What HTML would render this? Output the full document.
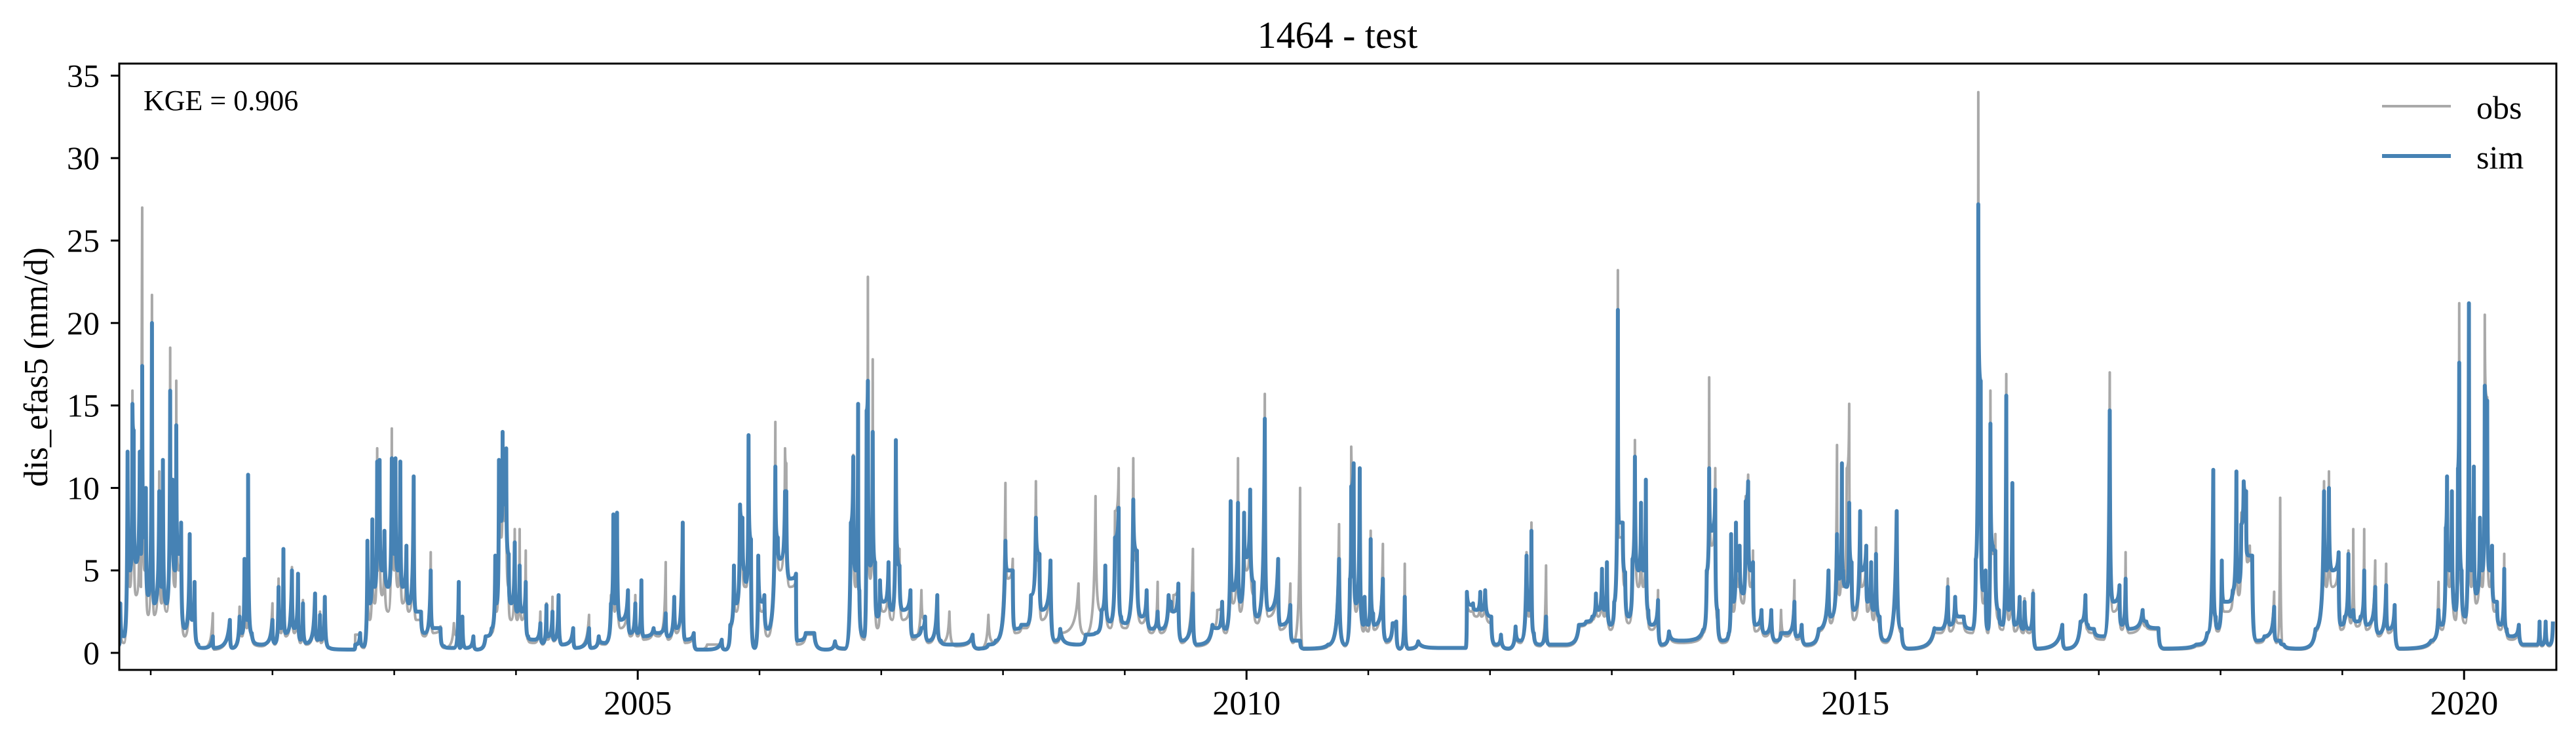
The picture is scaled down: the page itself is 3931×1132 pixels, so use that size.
<!DOCTYPE html>
<html><head><meta charset="utf-8"><title>1464 - test</title>
<style>
html,body{margin:0;padding:0;background:#fff;}
svg{display:block;font-family:"Liberation Serif",serif;}
</style></head>
<body>
<svg id="chart" width="3931" height="1132" viewBox="0 0 3931 1132" xmlns="http://www.w3.org/2000/svg">
<rect x="0" y="0" width="3931" height="1132" fill="#fff"/>
<text x="2041" y="73" font-size="58" text-anchor="middle">1464 - test</text>
<defs><clipPath id="plotclip"><rect x="182" y="97" width="3719" height="925"/></clipPath></defs>
<g id="series" clip-path="url(#plotclip)"></g>
<g id="axes"></g>
<rect x="182" y="97" width="3719" height="925" fill="none" stroke="#000" stroke-width="3"/>
<text x="219" y="168" font-size="44">KGE = 0.906</text>
<g>
<line x1="3635" y1="162" x2="3740" y2="162" stroke="#a9a9a9" stroke-width="4"/>
<text x="3779" y="181" font-size="50">obs</text>
<line x1="3635" y1="238" x2="3740" y2="238" stroke="#4682b4" stroke-width="6"/>
<text x="3779" y="257" font-size="50">sim</text>
</g>
<text transform="translate(72,560) rotate(-90)" font-size="52" text-anchor="middle">dis_efas5 (mm/d)</text>
</svg>
<script>
const yTicks=[0,5,10,15,20,25,30,35];
const xMajorYears=[2005,2010,2015,2020];
const xMinorYears=[2001,2002,2003,2004,2006,2007,2008,2009,2011,2012,2013,2014,2016,2017,2018,2019];

const datesA=[2000.74,2000.75,2000.78,2000.81,2000.83,2000.85,2000.86,2000.88,2000.91,2000.92,
2000.93,2000.95,2000.96,2000.98,2001.01,2001.03,2001.07,2001.09,2001.10,2001.13,
2001.16,2001.17,2001.18,2001.20,2001.21,2001.23,2001.25,2001.28,2001.32,2001.34,
2001.36,2001.39,2001.43,2001.51,2001.52,2001.65,2001.67,2001.73,2001.75,2001.77,
2001.79,2001.80,2001.83,2001.91,2002.00,2002.02,2002.05,2002.07,2002.09,2002.11,
2002.16,2002.18,2002.21,2002.23,2002.25,2002.28,2002.35,2002.37,2002.39,2002.40,
2002.43,2002.47,2002.67,2002.68,2002.72,2002.75,2002.78,2002.80,2002.82,2002.84,
2002.86,2002.87,2002.88,2002.90,2002.92,2002.95,2002.98,2003.00,2003.01,2003.03,
2003.05,2003.07,2003.10,2003.12,2003.16,2003.18,2003.22,2003.25,2003.30,2003.32,
2003.38,2003.41,2003.49,2003.53,2003.54,2003.56,2003.59,2003.65,2003.68,2003.75,
2003.80,2003.83,2003.84,2003.86,2003.88,2003.89,2003.90,2003.92,2003.94,2003.96,
2003.99,2004.01,2004.03,2004.05,2004.08,2004.10,2004.15,2004.20,2004.22,2004.25,
2004.26,2004.30,2004.31,2004.35,2004.38,2004.47,2004.49,2004.60,2004.62,2004.68,
2004.73,2004.78,2004.80,2004.81,2004.83,2004.86,2004.92,2004.94,2004.98,2005.00,
2005.03,2005.05,2005.13,2005.17,2005.23,2005.25,2005.30,2005.32,2005.37,2005.39,
2005.46,2005.49,2005.57,2005.69,2005.72];
const simA=[0.5,3.0,1.0,12.2,5,15.1,13.5,5.5,12.2,6,
17.4,7,10,3.5,20,3,9.8,4,11.7,3,
15.9,7,10.5,5,13.8,6,7.9,1.5,7.2,2,
4.3,0.5,0.3,1.0,0.3,2,0.3,2.2,1.2,5.7,
2,10.8,1.2,0.5,2,0.6,4,1.5,6.3,1.2,
5,1.5,4.8,0.8,3,0.6,3.6,0.8,2.3,0.8,
3.4,0.3,0.2,0.5,1.2,0.4,6.8,3,8.1,4,
11.6,6,11.7,5,7.4,4,11.8,6,11.8,5,
11.6,4,6.5,3,10.7,2.5,2.5,1.2,5,1.5,
1.5,0.4,0.3,4.3,0.3,2.2,0.3,1,0.2,1,
1.5,5.9,3,11.7,8,13.4,9,12.4,6,3,
6.7,2.5,5.3,2.5,4.3,1,0.8,1.8,0.6,2.9,
1,2.5,0.8,3.5,0.5,1.5,0.3,1.5,0.3,1,
0.6,3,8.4,3,8.5,2,3.8,1.2,3,1.2,
4.4,1,1.5,1.2,2.4,1,3.4,1.5,7.9,0.8,
1.2,0.2,0.2,0.8,0.2];
const obsA=[0.4,2.5,0.6,12.2,4,15.9,13,3.5,10,4,
27,5,9.5,2.3,21.7,2.3,11,3,11,2.5,
18.5,6,9,4,16.5,5,7,1,6,2,
4,0.4,0.3,2.4,0.2,2,0.3,2.8,1,5.5,
1.5,10.8,1,0.4,3,0.5,4.5,1.2,6.2,1,
5.2,1.2,4.8,0.6,3.2,0.5,3,0.7,2.5,0.6,
3.2,0.3,0.2,1.1,1.1,0.3,6.5,2,8,3,
12.4,5,11,3.5,7,2.5,13.6,5,11.5,4,
11,3,6,2.5,10.5,2,2,1,6.1,1.2,
1.6,0.3,1.8,1,0.3,2,0.3,1,0.2,1,
1.2,5.5,2.5,11.5,7,13.2,8,12,4,2,
7.5,2,7.5,2,6.2,0.8,0.6,2.5,0.5,3,
0.8,3.4,0.7,3.3,0.5,1.3,0.3,2.3,0.3,0.8,
0.5,3.5,8.3,2.5,8.4,1.5,3.6,1,3.5,1,
4,0.8,1.5,1,5.5,0.8,3.3,1.2,7.7,0.6,
1.2,0.2,0.5,0.5,0.2];

const datesB=[2005.76,2005.79,2005.81,2005.84,2005.86,2005.88,2005.89,2005.91,2005.93,2005.96,
2005.99,2006.02,2006.04,2006.07,2006.13,2006.15,2006.17,2006.21,2006.22,2006.25,
2006.30,2006.31,2006.38,2006.45,2006.55,2006.62,2006.70,2006.75,2006.77,2006.79,
2006.81,2006.82,2006.86,2006.88,2006.89,2006.91,2006.93,2006.95,2006.97,2006.99,
2007.02,2007.06,2007.09,2007.12,2007.15,2007.18,2007.24,2007.26,2007.33,2007.36,
2007.39,2007.46,2007.49,2007.56,2007.62,2007.75,2007.80,2007.88,2007.94,2008.02,
2008.04,2008.08,2008.10,2008.15,2008.19,2008.23,2008.27,2008.30,2008.32,2008.39,
2008.43,2008.47,2008.62,2008.68,2008.76,2008.81,2008.84,2008.88,2008.92,2008.95,
2008.97,2009.01,2009.07,2009.10,2009.14,2009.18,2009.22,2009.27,2009.30,2009.36,
2009.38,2009.40,2009.44,2009.47,2009.56,2009.59,2009.72,2009.76,2009.80,2009.83,
2009.87,2009.89,2009.93,2009.95,2009.98,2010.00,2010.03,2010.06,2010.09,2010.15,
2010.18,2010.26,2010.28,2010.36,2010.38,2010.44,2010.47,2010.67];
const simB=[1.7,5.3,3,9,8.2,5,4.3,13.2,6.9,0.3,
5.9,3.1,3.5,1.45,11.3,7,5.7,9.8,9.8,4.5,
4.8,0.74,1.2,1.2,0.2,0.7,0.26,7.9,11.9,5,
15.1,3.8,1,14.7,16.5,5.3,13.4,5.5,2.2,4.4,
3.1,5.5,2.6,12.9,5.3,2.6,3.8,1,1.5,2.2,
0.74,3.5,0.74,0.5,0.5,1.1,0.26,0.5,0.74,6.8,
5,5,1.45,1.7,1.7,3.5,8.2,6,2.6,5.6,
0.74,1.45,0.5,1.1,1.2,2.6,5.3,1.9,7,8.8,
2.2,1.8,9.3,6.2,2.2,3.8,1.45,2.5,1.45,3.5,
3.1,2.5,4.2,0.74,3.6,0.5,1.7,1.5,3.1,1.45,
9.2,3.8,9.1,3.1,8.5,5.8,9.9,4.3,2.2,14.2,
2.6,5.7,1.7,2.9,0.74,0.74,0.26,0.5];
const obsB=[1.5,5,2.5,9,7.5,4,4,13,6,0.3,
5.5,2.5,3,1,14,6,5,12.4,11.5,4,
4.5,0.5,1.1,1.1,0.2,0.6,0.2,7.5,12,4,
15,3,0.8,11,22.8,4.5,17.8,4.5,1.5,4,
2.5,5,2,12.9,6.3,2,3.5,0.8,3.8,2,
0.6,3.5,0.6,2.5,0.4,1.1,0.2,2.3,0.6,10.3,
4.5,5.7,1.2,1.5,1.5,3.5,10.4,5.5,2,5.6,
0.6,1.2,4.2,1.1,9.5,2.5,5.3,1.5,8.6,11.2,
1.8,1.5,11.8,5.5,1.8,3.5,1.2,4.3,1.2,3.5,
2.5,3.5,4.2,0.6,6.3,0.4,1.5,2.6,3,1.2,
9,3,11.8,2.5,8.3,5,9.8,3.5,1.8,15.7,
2.2,5.5,1.4,4.2,0.6,10,0.2,0.4];

const datesC=[2010.76,2010.81,2010.85,2010.86,2010.88,2010.90,2010.93,2010.96,2010.97,2011.00,
2011.02,2011.04,2011.05,2011.12,2011.15,2011.20,2011.23,2011.26,2011.30,2011.33,
2011.41,2011.60,2011.80,2011.81,2011.85,2011.86,2011.89,2011.92,2011.93,2011.96,
2012.01,2012.05,2012.09,2012.15,2012.21,2012.25,2012.30,2012.32,2012.34,2012.36,
2012.41,2012.46,2012.49,2012.62,2012.73,2012.79,2012.84,2012.87,2012.89,2012.92,
2012.94,2012.96,2012.99,2013.02,2013.05,2013.06,2013.09,2013.11,2013.14,2013.17,
2013.19,2013.22,2013.24,2013.26,2013.28,2013.30,2013.33,2013.38,2013.41,2013.47,
2013.57,2013.75,2013.78,2013.80,2013.82,2013.85,2013.87,2013.91,2013.96,2013.98,
2014.00,2014.02,2014.04,2014.05,2014.08,2014.10,2014.12,2014.14,2014.16,2014.18,
2014.23,2014.26,2014.31,2014.35,2014.39,2014.44,2014.50,2014.52,2014.56,2014.60,
2014.70,2014.78,2014.80,2014.85,2014.87,2014.89,2014.90,2014.93,2014.95,2014.97,
2014.99,2015.04,2015.05,2015.09,2015.10,2015.13,2015.15,2015.17,2015.20,2015.25,
2015.34,2015.38,2015.44,2015.65,2015.70];
const simC=[5.7,0.5,4.5,10.1,11.5,3,11.2,1.7,3.4,1.7,
6.9,2.4,1.7,4.5,0.74,1.8,1.9,0.26,3.4,0.26,
0.7,0.3,0.3,3.7,2.9,3,2.6,3.7,2.6,3.8,
2.2,0.5,1.1,0.26,1.6,0.74,5.9,2.6,7.4,1.2,
0.5,2.2,0.5,0.5,1.7,1.9,2.2,3.6,2.6,5.1,
2.6,5.5,1.7,3.1,20.8,7.9,7.9,4.9,2.2,5.7,
11.9,5,9.1,5,10.5,2.6,1.7,3.2,0.5,1.3,
0.74,1.4,5,11.2,7.4,9.9,2.6,0.74,1.2,7.2,
3.1,7.9,5,6.5,3.6,9.2,10.4,5,5.5,1.7,
2.6,1.2,2.6,0.74,1.2,1.2,3.1,1,1.7,0.5,
1.45,5,2.2,7.2,4.5,11.5,5,4,9.1,5.5,
2.6,8.6,5,6.5,3.1,5.5,2.6,6,2.2,0.74,
8.6,1.45,0.26,1.5,1.45];
const obsC=[7.8,0.4,4,12.5,11,2.5,11,1.3,3,1.3,
7.4,2,1.4,6.6,0.6,1.6,1.7,0.2,5.4,0.2,
0.6,0.3,0.3,3.5,2.5,2.8,2.2,3.5,2.2,3.5,
1.8,0.4,1,0.2,1.6,0.6,6.1,2.2,7.9,1,
0.4,5.3,0.4,0.4,1.6,1.8,2,3.5,2.2,5,
2.2,5.5,1.4,3,23.2,7,7,4,1.8,5.5,
12.9,4,9,4,10.5,2,1.4,3.8,0.4,1.3,
0.6,1.2,4.5,16.7,6.5,11.2,2,0.6,1,7,
2.5,7.5,4,6.2,3,9.5,10.8,4,6.2,1.3,
2.5,1,2.5,0.6,2.6,1,4.4,0.8,1.6,0.4,
1.3,5,1.8,12.6,3.5,11.5,4,11.2,15.1,4.5,
2,8.6,4,6.5,2.5,5.5,2,7.6,1.8,0.6,
8.6,1.2,0.2,1.3,1.2];

const datesD=[2015.76,2015.78,2015.82,2015.85,2015.89,2015.96,2015.99,2016.01,2016.03,2016.05,
2016.07,2016.09,2016.11,2016.13,2016.15,2016.18,2016.21,2016.24,2016.26,2016.29,
2016.31,2016.35,2016.38,2016.39,2016.43,2016.46,2016.49,2016.70,2016.73,2016.85,
2016.89,2016.91,2016.96,2017.04,2017.09,2017.12,2017.17,2017.19,2017.22,2017.25,
2017.36,2017.39,2017.49,2017.54,2017.80,2017.89,2017.94,2017.96,2017.98,2018.01,
2018.03,2018.06,2018.10,2018.13,2018.15,2018.17,2018.19,2018.21,2018.22,2018.24,
2018.26,2018.30,2018.36,2018.44,2018.46,2018.49,2018.52,2018.65,2018.78,2018.85,
2018.87,2018.89,2018.92,2018.97,2018.99,2019.02,2019.05,2019.07,2019.09,2019.12,
2019.15,2019.18,2019.20,2019.27,2019.30,2019.36,2019.38,2019.43,2019.47,2019.73,
2019.79,2019.82,2019.85,2019.86,2019.88,2019.90,2019.93,2019.95,2019.96,2019.98,
2020.01,2020.04,2020.06,2020.08,2020.10,2020.13,2020.15,2020.17,2020.19,2020.21,
2020.23,2020.25,2020.27,2020.30,2020.33,2020.35,2020.39,2020.45,2020.49,2020.60,
2020.62,2020.64,2020.67,2020.70,2020.73];
const simD=[4,1.7,3.4,2.2,2.2,1.45,5.7,27.2,16.5,3.8,
5,1.45,13.9,6.5,6.2,2.6,1.7,15.6,2.6,10.3,
1.7,3.4,1.45,3.1,1.45,3.6,0.26,1.7,0.26,1.9,
3.5,1.7,1.45,1.0,14.7,3.1,4.1,1.7,4.5,1.45,
2.6,1.9,1.5,0.26,0.5,1.2,11.1,2.2,1.5,5.6,
3.1,3.1,3.8,11,4.3,7.8,10.4,9.8,6,5.9,
5.9,0.74,1,2.8,0.74,0.74,0.5,0.26,1.45,9.8,
5,10,5,6.1,1.7,2.2,6,2.2,2.6,1.9,
2.2,5,1.7,4,1.2,4.1,1.45,2.9,0.26,0.74,
2.6,1.7,7.6,10.7,5,9.8,2.6,11.2,17.6,5,
2.2,21.2,5,11.3,3.6,8.2,5,16.2,15.3,5,
6.5,3.1,3.1,1.7,5.1,1.45,1,1.7,0.5,0.5,
1.9,0.5,1.9,0.5,1.9];
const obsD=[4.5,1.3,3,1.8,1.8,1.2,5.5,34,16.5,3,
4.5,1.2,15.9,6,7.2,2,1.4,16.9,2,10.3,
1.3,3.2,1.2,3.3,1.2,3.8,0.2,1.6,0.2,1.8,
3.5,1.4,1.2,0.8,17,2.5,4,1.4,6.1,1.2,
2.5,1.6,1.4,0.2,0.4,1.1,11.1,1.8,1.3,5,
2.5,2.5,3.5,11,3.5,8.5,10.2,9.5,5.5,6.5,
5.5,0.6,0.9,3.7,0.6,9.4,0.4,0.2,1.3,10.4,
4,11,4,6,1.4,2,6.2,1.8,7.5,1.6,
2,7.5,1.4,5.6,1,5.4,1.2,2.9,0.2,0.6,
4.3,1.4,7.5,10.5,4,9.5,2,11,21.2,4,
1.8,21.2,4,11,3,8,4,20.5,15.5,4,
6.5,2.5,3,1.4,6,1.2,0.8,1.6,0.4,0.4,
1.8,0.4,1.8,0.4,1.8];

const dates=datesA.concat(datesB,datesC,datesD);
const simVals=simA.concat(simB,simC,simD);
const obsVals=obsA.concat(obsB,obsC,obsD);

const NS="http://www.w3.org/2000/svg";
function xScale(t){return 230+(t-2001)*185.8;}
function yScale(v){return 996-v*25.16;}

const series=document.getElementById('series');
function drawLine(vals,color,w,name){
  let x0=xScale(dates[0]), y0=yScale(vals[0]);
  let d='M'+x0.toFixed(1)+' '+y0.toFixed(1);
  for(let i=1;i<dates.length;i++){
    const x1=xScale(dates[i]), y1=yScale(vals[i]);
    const dx=x1-x0;
    if(y1>y0){ // falling value: fast recession
      d+='C'+(x0+0.08*dx).toFixed(1)+' '+(y0+0.85*(y1-y0)).toFixed(1)+' '+(x0+0.25*dx).toFixed(1)+' '+y1.toFixed(1)+' '+x1.toFixed(1)+' '+y1.toFixed(1);
    } else { // rising: sharp rise near the end
      d+='C'+(x0+0.75*dx).toFixed(1)+' '+y0.toFixed(1)+' '+(x1-0.1*dx).toFixed(1)+' '+(y0+0.3*(y1-y0)).toFixed(1)+' '+x1.toFixed(1)+' '+y1.toFixed(1);
    }
    x0=x1; y0=y1;
  }
  const p=document.createElementNS(NS,'path');
  p.setAttribute('d',d);
  p.setAttribute('fill','none');
  p.setAttribute('stroke',color);
  p.setAttribute('stroke-width',w);
  p.setAttribute('stroke-linejoin','round');
  
  
  series.appendChild(p);
}
drawLine(obsVals,'#a9a9a9',4,'obs-line');
drawLine(simVals,'#4682b4',6,'sim-line');

const axes=document.getElementById('axes');
yTicks.forEach(v=>{
  const y=yScale(v);
  const l=document.createElementNS(NS,'line');
  l.setAttribute('x1',169);l.setAttribute('x2',182);
  l.setAttribute('y1',y);l.setAttribute('y2',y);
  l.setAttribute('stroke','#000');l.setAttribute('stroke-width',3);
  
  
  axes.appendChild(l);
  const t=document.createElementNS(NS,'text');
  t.setAttribute('x',152);t.setAttribute('y',y+17);
  t.setAttribute('font-size',50);t.setAttribute('text-anchor','end');
  t.textContent=String(v);
  
  
  axes.appendChild(t);
});
xMinorYears.forEach(yr=>{
  const x=xScale(yr);
  const l=document.createElementNS(NS,'line');
  l.setAttribute('x1',x);l.setAttribute('x2',x);
  l.setAttribute('y1',1022);l.setAttribute('y2',1030);
  l.setAttribute('stroke','#000');l.setAttribute('stroke-width',2.5);
  
  
  axes.appendChild(l);
});
xMajorYears.forEach(yr=>{
  const x=xScale(yr);
  const l=document.createElementNS(NS,'line');
  l.setAttribute('x1',x);l.setAttribute('x2',x);
  l.setAttribute('y1',1022);l.setAttribute('y2',1037);
  l.setAttribute('stroke','#000');l.setAttribute('stroke-width',3);
  
  
  axes.appendChild(l);
  const t=document.createElementNS(NS,'text');
  t.setAttribute('x',x);t.setAttribute('y',1090);
  t.setAttribute('font-size',52);t.setAttribute('text-anchor','middle');
  t.textContent=String(yr);
  
  
  axes.appendChild(t);
});
</script>
</body></html>
